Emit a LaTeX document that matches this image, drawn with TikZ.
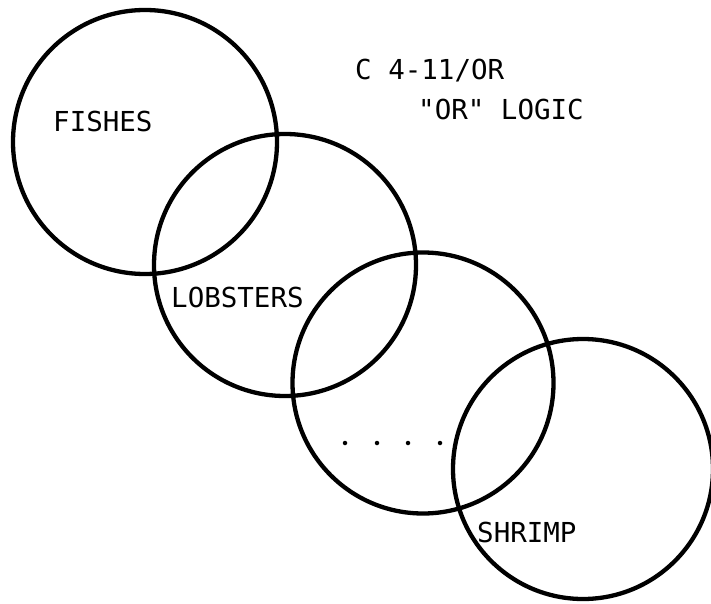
\documentclass[tikz,border=0pt]{standalone}
\usepackage{fontspec}
\newfontfamily\labelfont{DejaVu Sans Mono}
\begin{document}
\begin{tikzpicture}[x=1pt,y=-1pt,
  ring/.style={draw=black, circle, line width=4.3pt, inner sep=0pt},
  tag/.style={anchor=base west, inner sep=0pt, font=\labelfont\fontsize{27.5}{30}\selectfont},
  dot/.style={fill=black, circle, inner sep=0pt, minimum size=4.5pt}]
  \useasboundingbox[fill=white] (0,0) rectangle (711,604);

  % the four overlapping sets
  \node[ring, minimum size=264pt] (fishes)   at (145,142) {};
  \node[ring, minimum size=262pt] (lobsters) at (285,265) {};
  \node[ring, minimum size=261pt] (middle)   at (423,383) {};
  \node[ring, minimum size=260pt] (shrimp)   at (583,469) {};

  % set names
  \node[tag] (tfish)   at (53,132)  {FISHES};
  \node[tag] (tlob)    at (171,307) {LOBSTERS};
  \node[tag] (tshrimp) at (477,542) {SHRIMP};

  % caption
  \node[tag] (code)  at (355,80)  {C 4-11/OR};
  \node[tag] (logic) at (418,120) {"OR" LOGIC};

  % ellipsis for the omitted sets
  \node[dot] (d1) at (345,443) {};
  \node[dot] (d2) at (377,443) {};
  \node[dot] (d3) at (408,443) {};
  \node[dot] (d4) at (440,443) {};
\end{tikzpicture}
\end{document}
